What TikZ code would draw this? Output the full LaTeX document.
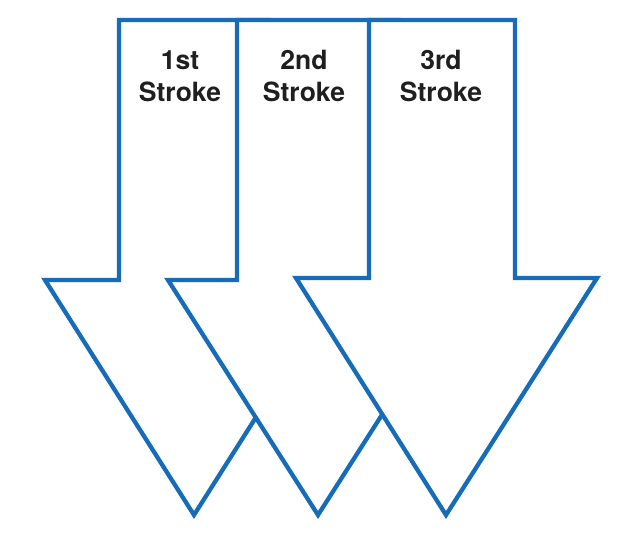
\documentclass[tikz,border=0pt]{standalone}
\usepackage{fontspec}
\setmainfont{TeX Gyre Heros}
\definecolor{strokeblue}{RGB}{22,108,184}
\begin{document}
\begin{tikzpicture}[x=1pt,y=-1pt,
  arrowshape/.style={draw=strokeblue,line width=4.3pt,fill=white,line join=miter},
  lbl/.style={font=\bfseries\fontsize{26.5}{32}\selectfont,align=center,text=black!88}]
\useasboundingbox (0,0) rectangle (626,543);
% arrow 1
\draw[arrowshape] (119,20) -- (269,20) -- (269,280) -- (343,280) -- (194,515) -- (45,280) -- (119,280) -- cycle;
% arrow 2
\draw[arrowshape] (237,20) -- (399,20) -- (399,280) -- (468,280) -- (318,515) -- (168,280) -- (237,280) -- cycle;
% arrow 3
\draw[arrowshape] (369,20) -- (515,20) -- (515,278) -- (597,278) -- (446,515) -- (296,278) -- (369,278) -- cycle;
\node[lbl] (s1) at (180,76) {1st\\Stroke};
\node[lbl] (s2) at (304,76) {2nd\\Stroke};
\node[lbl] (s3) at (441,76) {3rd\\Stroke};
\end{tikzpicture}
\end{document}
